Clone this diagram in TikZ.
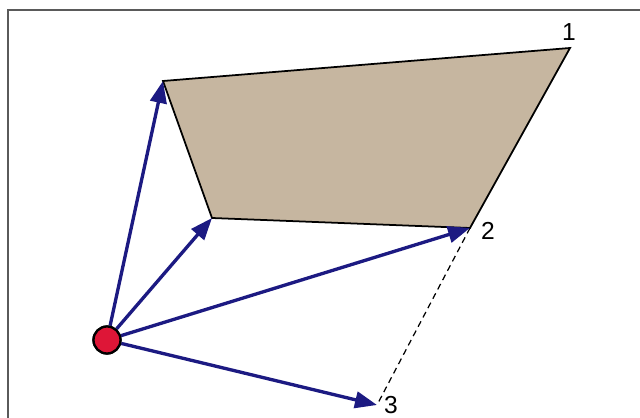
\documentclass[tikz,border=0pt]{standalone}
\usepackage{fontspec}
\setmainfont{Liberation Sans}
\usepackage{xcolor}
\usetikzlibrary{positioning, arrows.meta}

\definecolor{vecblue}{RGB}{28,26,130}
\definecolor{facetan}{RGB}{198,182,160}
\definecolor{dotred}{RGB}{222,22,55}
\definecolor{framegray}{RGB}{90,90,90}

\begin{document}
\begin{tikzpicture}[
  x=0.02cm, y=-0.02cm,
  face/.style={draw=black, line width=1pt, fill=facetan, line join=miter},
  vec/.style={-{Triangle[length=4.4mm, width=3.3mm]}, vecblue, line width=1.9pt},
  origin/.style={circle, draw=black, line width=1.3pt, fill=dotred, minimum size=0.54cm, inner sep=0pt},
  lbl/.style={font=\fontsize{14}{16}\selectfont, inner sep=1pt},
  guide/.style={dash pattern=on 3.5pt off 2.5pt, black, line width=0.7pt}
]
\useasboundingbox (0,0) rectangle (640,418);

% ==================== FRAME ====================
\draw[framegray, line width=0.8pt] (8,418) -- (8,10) -- (640,10);

% ==================== POINTS ====================
\coordinate (tl) at (163,81);
\coordinate (p1) at (570,48);
\coordinate (p2) at (470,228);
\coordinate (bl) at (212,218);
\coordinate (p3) at (377,405);

% Face
\draw[face] (tl) -- (p1) -- (p2) -- (bl) -- cycle;

% Labels
\node[lbl] (lab1) at (569,32) {1};
\node[lbl] (lab2) at (488,231) {2};
\node[lbl] (lab3) at (391,405) {3};

% Dashed guide
\draw[guide] (p2) -- (p3);

% ==================== VECTORS ====================
\node[origin] (o) at (107,340) {};
\draw[vec] (o) -- (tl);
\draw[vec] (o) -- (bl);
\draw[vec] (o) -- (p2);
\draw[vec] (o) -- (p3);
\node[origin] at (o) {};

\end{tikzpicture}
\end{document}
